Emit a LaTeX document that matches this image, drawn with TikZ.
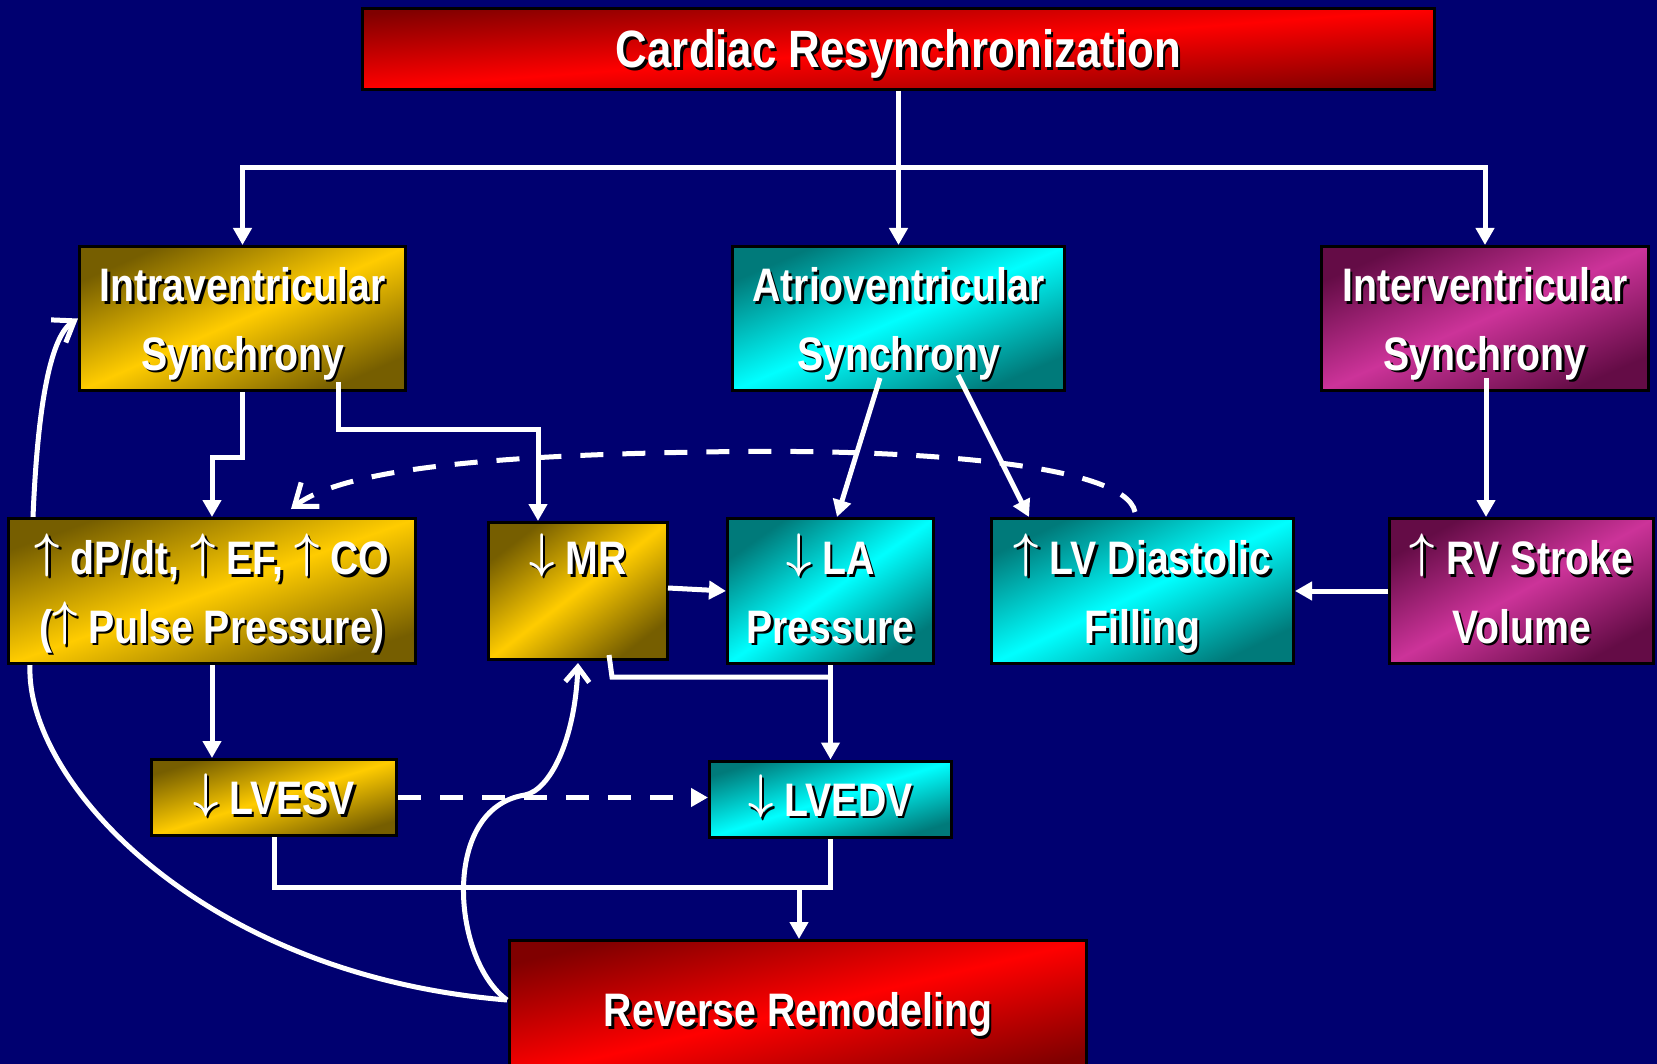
\documentclass[tikz,border=0pt]{standalone}
\usepackage{graphicx}
\usepackage{fontspec}
\usetikzlibrary{arrows.meta,calc}
\newfontfamily\narb[FakeStretch=0.835]{Liberation Sans}
\definecolor{bgc}{RGB}{0,0,112}
\definecolor{redD}{RGB}{128,0,0}
\definecolor{redL}{RGB}{255,0,0}
\definecolor{goldD}{RGB}{118,94,0}
\definecolor{goldL}{RGB}{255,204,0}
\definecolor{cyanD}{RGB}{0,122,122}
\definecolor{cyanL}{RGB}{0,255,255}
\definecolor{magD}{RGB}{100,12,70}
\definecolor{magL}{RGB}{204,51,153}
\pgfdeclarelayer{back}
\pgfdeclarelayer{mid}
\pgfsetlayers{back,mid,main}
\newcommand\shd[1]{\makebox[0pt][l]{\kern2.5pt\raisebox{-2.5pt}{\color{black}#1}}#1}
\newcommand\oneline[1]{\makebox[0pt]{\raisebox{-17pt}[0pt][0pt]{\shd{#1}}}}
\newcommand\twoline[2]{\makebox[0pt]{\raisebox{16.5pt}[0pt][0pt]{\shd{#1}}}\makebox[0pt]{\raisebox{-52pt}[0pt][0pt]{\shd{#2}}}}
\newcommand\topline[1]{\makebox[0pt]{\raisebox{16.5pt}[0pt][0pt]{\shd{#1}}}}
\newcommand\upa{\raisebox{7.4pt}{\scalebox{4.4}[4.85]{\fontsize{10}{12}\selectfont\boldmath$\uparrow$}}}
\newcommand\dna{\raisebox{7.4pt}{\scalebox{4.4}[4.85]{\fontsize{10}{12}\selectfont\boldmath$\downarrow$}}}
\begin{document}
\begin{tikzpicture}[x=1pt,y=-1pt,
  every node/.style={text=white, font=\narb\bfseries\fontsize{47}{56}\selectfont},
  box/.style={draw=black, line width=3pt, inner sep=0pt},
  redbox/.style={box, top color=redD, bottom color=redD, middle color=redL},
  goldbox/.style={box, top color=goldD, bottom color=goldD, middle color=goldL},
  cyanbox/.style={box, top color=cyanD, bottom color=cyanD, middle color=cyanL},
  magbox/.style={box, top color=magD, bottom color=magD, middle color=magL},
  wline/.style={draw=white, line width=5pt},
  conn/.style={wline, -{Triangle[width=18pt,length=17pt]}},
  dashy/.style={dash pattern=on 23pt off 19pt}
]
\begin{pgfonlayer}{back}
\fill[bgc] (0,0) rectangle (1657,1064);
\end{pgfonlayer}
\useasboundingbox (0,0) rectangle (1657,1064);

% boxes
\node[redbox, shading angle=4.3, minimum width=1072pt, minimum height=81pt] (T) at (898.5,49)
  {\makebox[0pt]{\raisebox{-19pt}[0pt][0pt]{\fontsize{52.5}{60}\selectfont\shd{Cardiac Resynchronization}}}};
\node[goldbox, shading angle=23.8, minimum width=326pt, minimum height=144pt] (I) at (242.5,318.5) {\twoline{Intraventricular}{Synchrony}};
\node[cyanbox, shading angle=23.4, minimum width=332pt, minimum height=144pt] (A) at (898.5,318.5) {\twoline{Atrioventricular}{Synchrony}};
\node[magbox, shading angle=23.8, minimum width=327pt, minimum height=144pt] (V) at (1485,318.5) {\twoline{Interventricular}{Synchrony}};
\node[goldbox, shading angle=19.6, minimum width=407pt, minimum height=145pt] (dP) at (212,591) {\twoline{\upa\ dP/dt, \upa\ EF, \upa\ CO}{(\upa\ Pulse Pressure)}};
\node[goldbox, shading angle=37.4, minimum width=179pt, minimum height=137pt] (MR) at (578,591) {\topline{\dna\ MR}};
\node[cyanbox, shading angle=35.1, minimum width=206pt, minimum height=145pt] (LA) at (830.5,591) {\twoline{\dna\ LA}{Pressure}};
\node[cyanbox, shading angle=25.6, minimum width=302pt, minimum height=145pt] (LVD) at (1142.5,591) {\twoline{\upa\ LV Diastolic}{Filling}};
\node[magbox, shading angle=28.8, minimum width=264pt, minimum height=145pt] (RV) at (1521.5,591) {\twoline{\upa\ RV Stroke}{Volume}};
\node[goldbox, shading angle=17.2, minimum width=245pt, minimum height=76pt] (ESV) at (274,797.5) {\oneline{\dna\ LVESV}};
\node[cyanbox, shading angle=17.4, minimum width=242pt, minimum height=76pt] (EDV) at (830.5,799) {\oneline{\dna\ LVEDV}};
\node[redbox, shading angle=13.4, minimum width=577pt, minimum height=138pt] (RR) at (798,1009.5) {\oneline{Reverse Remodeling}};

% helper coordinates
\coordinate (hc) at (898.5,168);
\coordinate (i1) at (242.5,457);
\coordinate (i2) at (338,382);
\coordinate (i3) at (338,429);
\coordinate (i4) at (538,429);
\coordinate (mrin) at (538,521);
\coordinate (a1) at (880,378);
\coordinate (la1) at (837,517);
\coordinate (a2) at (958,375);
\coordinate (lvd1) at (1029,517);
\coordinate (v1) at (1486,378);
\coordinate (mra) at (668,588);
\coordinate (mrb) at (609,655);
\coordinate (mrc) at (612,677);
\coordinate (mrd) at (830.5,677);
\coordinate (j1) at (274,887);
\coordinate (j2) at (830.5,887);
\coordinate (j3) at (799,887);
\coordinate (rrw) at (507,1000);
\coordinate (dpb) at (30,665);
\coordinate (dpt) at (33,517);
\coordinate (lvdt) at (1135,512);
\coordinate (arcm) at (705,452);
\coordinate (dpa) at (291,509);
\coordinate (mrt) at (578,663);

% hidden curve (passes behind the dP/dt box)
\begin{pgfonlayer}{mid}
\draw[wline, -{Straight Barb[length=19pt,width=27pt]}] (rrw) .. controls (200,975) and (25,780) .. (dpb) -- (dpt)
  .. controls (37,420) and (48,338) .. (I.west);
\end{pgfonlayer}

% connectors
\draw[conn] (T.south) -- (A.north);
\draw[conn] (hc) -| (I.north);
\draw[conn] (hc) -| (V.north);
\draw[conn] (I.south) -- (i1) -| (dP.north);
\draw[conn] (i2) -- (i3) -- (i4) -- (mrin);
\draw[conn] (a1) -- (la1);
\draw[conn] (a2) -- (lvd1);
\draw[conn] (v1) -- (v1 |- RV.north);
\draw[conn] (RV.west) -- (LVD.east);
\draw[conn] (mra) -- (LA.west);
\draw[conn] (LA.south) -- (EDV.north);
\draw[wline] (mrb) -- (mrc) -- (mrd);
\draw[conn] (dP.south) -- (dP.south |- ESV.north);
\draw[conn, dashy] (ESV.east) -- (ESV.east -| EDV.west);
\draw[wline] (ESV.south) -- (j1) -- (j2) -- (EDV.south);
\draw[conn] (j3) -- (j3 |- RR.north);
\draw[wline, dashy, -{Straight Barb[length=20pt,width=30pt]}] (lvdt) .. controls (1125,462) and (900,448) .. (arcm)
  .. controls (500,455) and (345,468) .. (dpa);
\draw[wline, -{Straight Barb[length=15pt,width=24pt]}] (rrw) .. controls (452,960) and (440,808) .. (525,795)
  .. controls (550,790) and (575,740) .. (mrt);
\end{tikzpicture}
\end{document}
